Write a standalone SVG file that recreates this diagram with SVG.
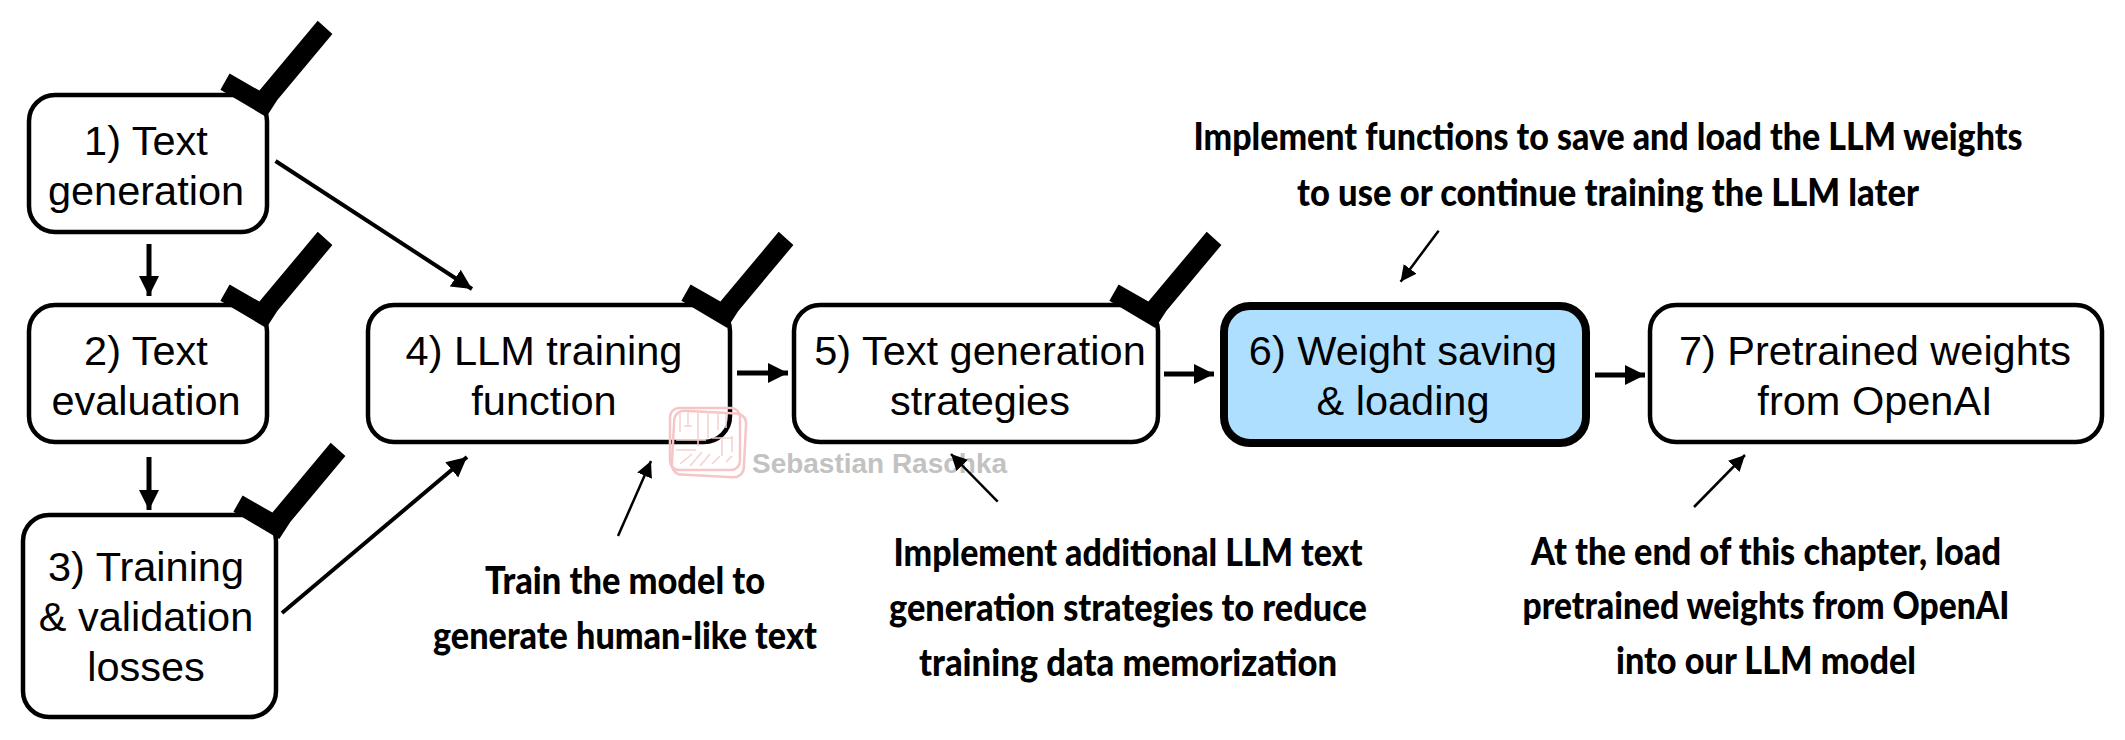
<svg xmlns="http://www.w3.org/2000/svg" width="2125" height="740" viewBox="0 0 2125 740">
<style>
.box{fill:#fff;stroke:#000;stroke-width:4.5}
.t{font-family:"Liberation Sans",Arial,sans-serif;font-size:41.5px;text-anchor:middle;fill:#000}
.a{font-family:Lato,"Liberation Sans",sans-serif;font-weight:900;font-size:38px;text-anchor:middle;fill:#000}
.c{stroke:#000;fill:none}
.wm{fill:none;stroke:#f6c6c6;stroke-width:2.5}
.wd{fill:none;stroke:#f6d0d0;stroke-width:1.5}
</style>
<defs>
<marker id="ah" markerUnits="userSpaceOnUse" markerWidth="24" markerHeight="22" refX="20" refY="10" orient="auto"><path d="M0 0L20 10L0 20z" fill="#000"/></marker>
<marker id="as" markerUnits="userSpaceOnUse" markerWidth="20" markerHeight="18" refX="16" refY="8" orient="auto"><path d="M0 0L16 8L0 16z" fill="#000"/></marker>
<polygon id="ck" points="317.7,20.8 332.4,34 277.3,100 266.3,117 220.4,89.7 229.6,73.6 259.4,90.6" fill="#000"/>
</defs>
<rect width="2125" height="740" fill="#fff"/>
<g id="node1"><rect class="box" x="29" y="95" width="238" height="137" rx="26"/><use href="#ck"/><text class="t" x="146" y="155">1) Text</text><text class="t" x="146" y="205">generation</text></g>
<g id="node2"><rect class="box" x="29" y="305" width="238" height="137" rx="26"/><use href="#ck" y="211"/><text class="t" x="146" y="365">2) Text</text><text class="t" x="146" y="415">evaluation</text></g>
<g id="node3"><rect class="box" x="23" y="515" width="253" height="202" rx="26"/><use href="#ck" x="13" y="422"/><text class="t" x="146" y="581">3) Training</text><text class="t" x="146" y="631">&amp; validation</text><text class="t" x="146" y="681">losses</text></g>
<g id="node4"><rect class="box" x="368" y="305" width="362" height="137" rx="26"/><use href="#ck" x="461" y="211"/><text class="t" x="544" y="365">4) LLM training</text><text class="t" x="544" y="415">function</text></g>
<g id="node5"><rect class="box" x="794" y="305" width="364" height="137" rx="26"/><use href="#ck" x="889" y="211"/><text class="t" x="980" y="365">5) Text generation</text><text class="t" x="980" y="415">strategies</text></g>
<g id="node6"><rect x="1224" y="306" width="362" height="137" rx="26" fill="#aedfff" stroke="#000" stroke-width="8"/><text class="t" x="1403" y="365">6) Weight saving</text><text class="t" x="1403" y="415">&amp; loading</text></g>
<g id="node7"><rect class="box" x="1650" y="305" width="452" height="137" rx="26"/><text class="t" x="1875" y="365">7) Pretrained weights</text><text class="t" x="1875" y="415">from OpenAI</text></g>
<g id="watermark">
<rect x="673" y="412" width="72" height="64" rx="10" class="wm" transform="rotate(3 709 444)"/>
<rect x="670" y="408" width="70" height="62" rx="9" class="wm"/>
<path class="wd" d="M680 412v20M688 412v14M684 426h8M698 410v36M708 412v26M718 412v18M726 414v14M676 440h30M712 438h20M722 438v18M732 436v16M676 450h20M680 464l12-10M690 466l12-14M700 466l10-12M712 464l8-8M726 462l6-6"/>
<text x="752" y="473" font-family="Liberation Sans,Arial,sans-serif" font-weight="700" font-size="27" fill="#c2c2c2" textLength="255" lengthAdjust="spacingAndGlyphs">Sebastian Raschka</text>
</g>
<g id="connectors">
<path class="c" stroke-width="4" marker-end="url(#ah)" d="M275.5 161L472 289"/>
<path class="c" stroke-width="5" marker-end="url(#ah)" d="M149 244V296"/>
<path class="c" stroke-width="5" marker-end="url(#ah)" d="M149 457V510"/>
<path class="c" stroke-width="4" marker-end="url(#ah)" d="M282 613L467 457"/>
<path class="c" stroke-width="2.5" marker-end="url(#as)" d="M618 536L651 461"/>
<path class="c" stroke-width="5" marker-end="url(#ah)" d="M737 373H788"/>
<path class="c" stroke-width="5" marker-end="url(#ah)" d="M1164 374H1214"/>
<path class="c" stroke-width="5" marker-end="url(#ah)" d="M1595 375H1645"/>
<path class="c" stroke-width="2.5" marker-end="url(#as)" d="M997.7 501.7L951 454"/>
<path class="c" stroke-width="2.5" marker-end="url(#as)" d="M1438.6 230.7L1400.6 281.7"/>
<path class="c" stroke-width="2.5" marker-end="url(#as)" d="M1694 507L1745 455"/>
</g>
<g id="annotations">
<text class="a" x="1608" y="150" textLength="829" lengthAdjust="spacingAndGlyphs">Implement functions to save and load the LLM weights</text>
<text class="a" x="1608" y="206" textLength="622" lengthAdjust="spacingAndGlyphs">to use or continue training the LLM later</text>
<text class="a" x="625" y="594" textLength="280" lengthAdjust="spacingAndGlyphs">Train the model to</text>
<text class="a" x="625" y="649" textLength="384" lengthAdjust="spacingAndGlyphs">generate human-like text</text>
<text class="a" x="1128" y="566" textLength="469" lengthAdjust="spacingAndGlyphs">Implement additional LLM text</text>
<text class="a" x="1128" y="621" textLength="478" lengthAdjust="spacingAndGlyphs">generation strategies to reduce</text>
<text class="a" x="1128" y="676" textLength="418" lengthAdjust="spacingAndGlyphs">training data memorization</text>
<text class="a" x="1766" y="565" textLength="470" lengthAdjust="spacingAndGlyphs">At the end of this chapter, load</text>
<text class="a" x="1766" y="619" textLength="487" lengthAdjust="spacingAndGlyphs">pretrained weights from OpenAI</text>
<text class="a" x="1766" y="674" textLength="300" lengthAdjust="spacingAndGlyphs">into our LLM model</text>
</g>
</svg>
